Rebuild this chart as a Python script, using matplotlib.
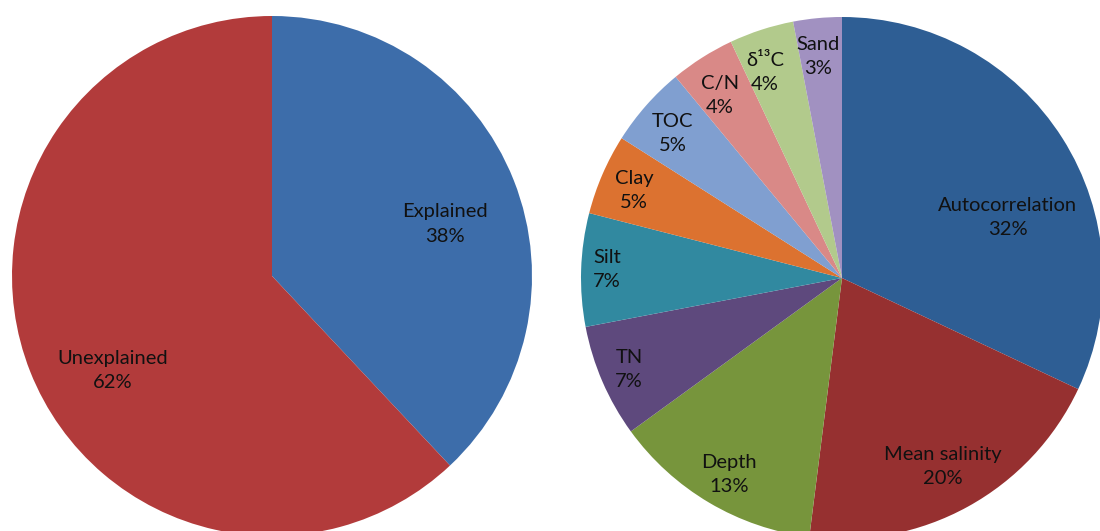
import matplotlib
matplotlib.use("Agg")
import matplotlib.pyplot as plt

plt.rcParams["font.family"] = ["Lato", "DejaVu Sans"]

# left pie: share of variance explained
left_labels = ["Explained", "Unexplained"]
left_values = [38, 62]
left_colors = ["#3D6DAA", "#B23B3B"]

# right pie: partition of the explained part
right_labels = ["Autocorrelation", "Mean salinity", "Depth", "TN", "Silt",
                "Clay", "TOC", "C/N", "δ¹³C", "Sand"]
right_values = [32, 20, 13, 7, 7, 5, 5, 4, 4, 3]
right_colors = ["#2E5E94", "#963030", "#77953C", "#5E497D", "#3189A0",
                "#DC7230", "#809FD0", "#D98987", "#B2CA8C", "#A191C1"]

# label anchor points, in units of pie radius (Excel "best fit" placement)
left_pos = [(0.665, 0.20), (-0.612, -0.362)]
right_pos = [(0.636, 0.230), (0.387, -0.724), (-0.433, -0.751),
             (-0.816, -0.349), (-0.900, 0.034), (-0.797, 0.337),
             (-0.648, 0.552), (-0.467, 0.701), (-0.295, 0.789),
             (-0.092, 0.847)]

W, H = 1100, 531
fig = plt.figure(figsize=(W / 100, H / 100), dpi=100)


def draw_pie(cx, cy, r, values, labels, colors, pos):
    ax = fig.add_axes([(cx - r) / W, (H - cy - r) / H, 2 * r / W, 2 * r / H])
    ax.pie(values, colors=colors, startangle=90, counterclock=False,
           wedgeprops=dict(linewidth=0))
    ax.set_xlim(-1, 1)
    ax.set_ylim(-1, 1)
    ax.set_aspect("auto")
    for lab, val, (x, y) in zip(labels, values, pos):
        ax.text(x, y, f"{lab}\n{val}%", ha="center", va="center",
                fontsize=14.5, color="#111111", linespacing=1.5)
    ax.axis("off")
    return ax


draw_pie(272, 276, 260, left_values, left_labels, left_colors, left_pos)
draw_pie(842, 278, 261, right_values, right_labels, right_colors, right_pos)

fig.savefig("out.png", dpi=100)
